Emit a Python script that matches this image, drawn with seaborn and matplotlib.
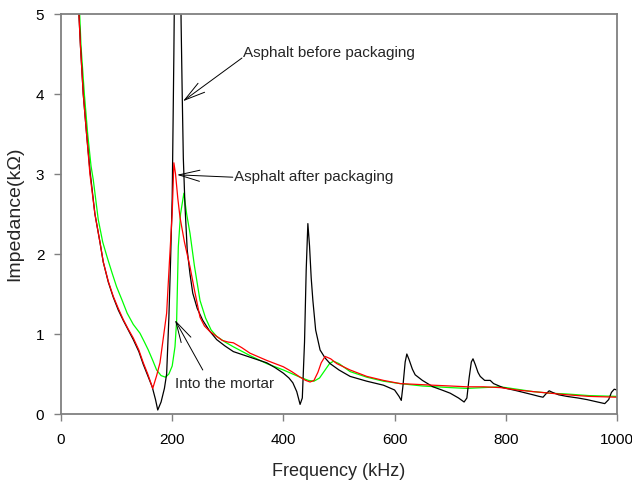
import matplotlib
matplotlib.use("Agg")
import matplotlib.pyplot as plt
import seaborn as sns
import pandas as pd

# ---- data (frequency kHz, impedance kOhm) ----
before_f = [28, 35, 40, 46, 52, 61, 70, 76, 85, 94, 103, 112, 121, 130, 140, 148, 156, 164, 170, 174,
            180, 186, 190, 194, 197, 200, 203, 207, 212, 216, 218, 220, 223, 227, 232, 237, 245, 255, 267,
            280, 295, 310, 340, 370, 385, 400, 410, 417, 424, 430, 434, 438, 441, 444, 447, 450, 453, 458,
            466, 475, 484, 500, 520, 550, 580, 600, 608, 612, 615, 619, 622, 626, 632, 637, 650, 669, 685,
            700, 715, 725, 730, 734, 738, 741, 745, 750, 754, 762, 768, 772, 778, 795, 820, 849, 860, 867,
            872, 878, 884, 895, 910, 930, 946, 965, 978, 985, 990, 995, 1000]
before_z = [5.6, 4.6, 4.0, 3.5, 3.05, 2.5, 2.15, 1.9, 1.65, 1.46, 1.3, 1.17, 1.05, 0.93, 0.78, 0.62, 0.48, 0.34, 0.18, 0.05,
            0.15, 0.32, 0.5, 1.2, 1.9, 2.7, 4.5, 7.5, 7.5, 4.9, 4.0, 3.2, 2.6, 2.05, 1.75, 1.51, 1.32, 1.17, 1.04,
            0.93, 0.85, 0.78, 0.71, 0.64, 0.58, 0.51, 0.45, 0.39, 0.28, 0.12, 0.2, 0.9, 1.8, 2.38, 2.1, 1.7, 1.42, 1.05,
            0.8, 0.7, 0.63, 0.55, 0.47, 0.41, 0.36, 0.30, 0.22, 0.17, 0.35, 0.65, 0.75, 0.68, 0.56, 0.49, 0.42, 0.34, 0.30,
            0.26, 0.2, 0.15, 0.2, 0.45, 0.65, 0.69, 0.62, 0.52, 0.47, 0.42, 0.42, 0.42, 0.38, 0.33, 0.29, 0.24, 0.22, 0.21,
            0.25, 0.29, 0.27, 0.24, 0.22, 0.2, 0.18, 0.15, 0.13, 0.18, 0.27, 0.31, 0.3]

after_f = [28, 35, 40, 46, 52, 61, 70, 76, 85, 94, 103, 112, 121, 130, 140, 148, 156, 165, 172, 178,
           184, 190, 195, 200, 203, 206, 210, 214, 222, 232, 240, 250, 258, 268, 280, 290, 300, 310, 325,
           340, 370, 400, 415, 430, 440, 448, 455, 462, 468, 475, 485, 496, 520, 550, 580, 610, 640, 669,
           700, 730, 760, 790, 820, 849, 880, 910, 950, 1000]
after_z = [5.6, 4.6, 4.0, 3.5, 3.0, 2.5, 2.15, 1.9, 1.66, 1.47, 1.32, 1.18, 1.06, 0.95, 0.8, 0.64, 0.5, 0.32, 0.48, 0.64,
           0.95, 1.26, 1.9, 2.51, 3.14, 3.0, 2.7, 2.46, 2.15, 1.84, 1.55, 1.21, 1.1, 1.03, 0.97, 0.92, 0.9, 0.89, 0.83,
           0.76, 0.67, 0.59, 0.53, 0.46, 0.42, 0.40, 0.42, 0.52, 0.64, 0.72, 0.69, 0.63, 0.55, 0.47, 0.42, 0.38, 0.37, 0.36,
           0.35, 0.34, 0.34, 0.33, 0.3, 0.28, 0.26, 0.24, 0.22, 0.21]

mortar_f = [30, 36, 42, 48, 54, 58, 67, 75, 83, 92, 100, 110, 119, 130, 142, 150, 157, 165, 172, 180,
            188, 194, 200, 205, 208, 211, 215, 221, 226, 232, 240, 250, 260, 270, 280, 295, 310, 340, 370,
            400, 430, 445, 455, 465, 475, 483, 490, 500, 520, 550, 580, 610, 650, 700, 730, 760, 790, 820,
            849, 880, 910, 950, 1000]
mortar_z = [5.6, 4.6, 4.0, 3.5, 3.1, 2.93, 2.43, 2.15, 1.96, 1.76, 1.59, 1.42, 1.26, 1.12, 1.01, 0.9, 0.8, 0.67, 0.55, 0.48,
            0.46, 0.5, 0.6, 0.84, 1.17, 2.09, 2.5, 2.76, 2.5, 2.26, 1.85, 1.42, 1.2, 1.05, 0.97, 0.9, 0.84, 0.73, 0.63,
            0.55, 0.46, 0.42, 0.41, 0.45, 0.55, 0.63, 0.66, 0.63, 0.53, 0.46, 0.41, 0.38, 0.35, 0.33, 0.32, 0.33, 0.34, 0.31,
            0.28, 0.26, 0.25, 0.23, 0.22]

x_ticks = [0, 200, 400, 600, 800, 1000]
y_ticks = [0, 1, 2, 3, 4, 5]

df = pd.concat([
    pd.DataFrame({"f": mortar_f, "z": mortar_z, "s": "Into the mortar"}),
    pd.DataFrame({"f": before_f, "z": before_z, "s": "Asphalt before packaging"}),
    pd.DataFrame({"f": after_f, "z": after_z, "s": "Asphalt after packaging"}),
], ignore_index=True)

sns.set_style("ticks")
plt.rcParams["font.family"] = ["Liberation Sans", "DejaVu Sans"]

fig = plt.figure(figsize=(6.32, 4.84), dpi=100)
ax = fig.add_axes([61 / 632, 70 / 484, 556 / 632, 400 / 484])

palette = {"Into the mortar": "#00ff00", "Asphalt before packaging": "#000000",
           "Asphalt after packaging": "#ff0000"}
sns.lineplot(data=df, x="f", y="z", hue="s", palette=palette, estimator=None,
             linewidth=0.9, legend=False, ax=ax)

ax.set_xlim(0, 1000)
ax.set_ylim(0, 5)
ax.set_xticks(x_ticks)
ax.set_yticks(y_ticks)
ax.tick_params(direction="out", length=5, width=1, color="#808080",
               labelsize=11, labelcolor="#000000")
ax.tick_params(axis="x", pad=9)
ax.tick_params(axis="y", pad=7)
for sp in ax.spines.values():
    sp.set_visible(True)
    sp.set_color("#808080")
    sp.set_linewidth(1.3)

ax.set_xlabel("Frequency (kHz)", fontsize=13, labelpad=11)
ax.set_ylabel("Impedance(kΩ)", fontsize=14, labelpad=9)

arrow = dict(arrowstyle="->,head_length=1.5,head_width=0.4", color="black", lw=0.7,
             shrinkA=0, shrinkB=0)
ax.annotate("", xy=(219.4, 3.91), xytext=(325.5, 4.45), arrowprops=arrow)
ax.annotate("", xy=(208.6, 2.99), xytext=(309, 2.96), arrowprops=arrow)
ax.annotate("", xy=(205, 1.175), xytext=(255, 0.55), arrowprops=arrow)
ax.text(327, 4.51, "Asphalt before packaging", fontsize=11, ha="left", va="center")
ax.text(312, 2.96, "Asphalt after packaging", fontsize=11, ha="left", va="center")
ax.text(205, 0.375, "Into the mortar", fontsize=11, ha="left", va="center")

fig.savefig("out.png", dpi=100)
